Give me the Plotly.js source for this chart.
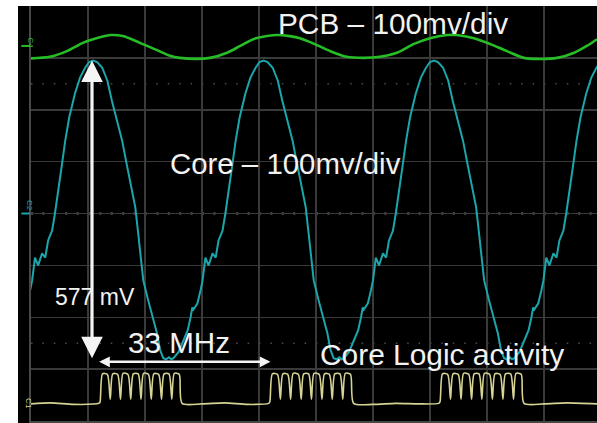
<!DOCTYPE html>
<html>
<head>
<meta charset="utf-8">
<script src="https://cdn.plot.ly/plotly-3.0.1.min.js"></script>
<style>
  html, body { margin: 0; padding: 0; background: #ffffff; overflow: hidden; }
  #scope { position: absolute; left: 18px; top: 6px; width: 579px; height: 417px; }
</style>
</head>
<body>
<div id="scope"></div>
<script>
// Time axis in ns (10 ns/div), vertical axis in mV (100 mV/div)

// Core supply ripple (cyan)
const coreT = [-0.15,0.2,0.7,1.25,1.95,2.5,3.0,3.7,4.2,4.9,5.5,6.0,6.7,7.7,8.6,9.5,10.2,10.9,
  11.6,12.5,13.4,14.2,15.1,16.0,16.7,17.4,18.3,18.8,19.5,19.7,20.55,21.4,22.1,22.65,23.2,23.7,24.2,24.6,
  25.0,25.9,26.6,27.5,28.0,28.3,28.5,29.2,29.75,30.1,30.6,31.15,31.85,32.4,32.9,33.6,34.1,34.8,35.4,35.9,36.6,37.6,38.5,39.4,40.1,40.8,
  41.5,42.4,43.3,44.1,45.0,45.9,46.6,47.3,48.2,48.7,49.4,49.6,50.45,51.3,52.0,52.55,53.1,53.6,54.1,54.5,
  54.9,55.8,56.5,57.4,57.9,58.2,58.4,59.1,59.65,60.0,60.5,61.05,61.75,62.3,62.8,63.5,64.0,64.7,65.3,65.8,66.5,67.5,68.4,69.3,70.0,70.7,
  71.4,72.3,73.2,74.0,74.9,75.8,76.5,77.2,78.1,78.6,79.3,79.5,80.35,81.2,81.9,82.45,83.0,83.5,84.0,84.4,
  84.8,85.7,86.4,87.3,87.8,88.1,88.3,89.0,89.55,89.9,90.4,90.95,91.65,92.2,92.7,93.4,93.9,94.6,95.2,95.7,96.4,97.4,98.3,99.2,99.9,100.6];
const coreMv = [-148,-129,-85,-100,-77,-85,-52,-33,0,50,100,140,185,231,262,281,292,295,
  292,281,256,217,179,140,100,63,12,-38,-104,-129,-167,-200,-231,-263,-279,-281,-277,-281,
  -279,-267,-250,-225,-200,-181,-185,-173,-148,-129,-85,-100,-77,-85,-52,-33,0,50,100,140,185,231,262,281,292,295,
  292,281,256,217,179,140,100,63,12,-38,-104,-129,-167,-200,-231,-263,-279,-281,-277,-281,
  -279,-267,-250,-225,-200,-181,-185,-173,-148,-129,-85,-100,-77,-85,-52,-33,0,50,100,140,185,231,262,281,292,295,
  292,281,256,217,179,140,100,63,12,-38,-104,-129,-167,-200,-231,-263,-279,-281,-277,-281,
  -279,-267,-250,-225,-200,-181,-185,-173,-148,-129,-85,-100,-77,-85,-52,-33,0,50,100,140,185,231,262,281,292,295];

// PCB supply (green)
const pcbT = [0,3.3,6.3,9.1,10.9,13.9,16.1,19.1,22.1,24.4,26.1,29.1,31.4,34.4,36.7,39.0,41.4,43.2,45.4,47.2,
  49.7,52.5,55.4,58.4,61.2,64.2,67.2,70.0,73.0,74.7,77.7,80.5,83.5,86.5,88.8,92.3,95.3,97.5,99.3];
const pcbMv = [299,302,313,329,336,344,342,329,315,304,300,298,300,310,323,336,342,344,342,338,
  327,313,302,300,302,310,327,338,344,344,338,327,313,300,298,300,310,323,336];

// Core logic activity bursts (yellow)
const logicT = [0,3.5,7.5,11.9,
  12.1,12.55,13.4, 13.9,14.35,15.2, 15.7,16.15,17.0, 17.5,17.95,18.8,
  19.3,19.75,20.6, 21.1,21.55,22.4, 22.9,23.35,24.2, 24.7,25.15,26.0,
  26.5,30,34,38,41.7,
  41.9,42.35,43.25, 43.75,44.2,45.05, 45.55,46.0,46.9, 47.4,47.85,48.7,
  49.2,49.65,50.55, 51.05,51.5,52.35, 52.85,53.3,54.2, 54.7,55.15,56.05,
  56.6,60,64,68,71.5,
  71.75,72.2,73.1, 73.6,74.05,74.95, 75.45,75.9,76.8, 77.3,77.75,78.6,
  79.1,79.55,80.45, 80.95,81.4,82.3, 82.8,83.25,84.15, 84.65,85.1,86.0,
  86.5,90,94,99.3];
const logicMv = [-367,-365,-368,-366,
  -364,-309,-310, -358,-309,-310, -358,-308,-310, -358,-309,-309,
  -358,-308,-310, -358,-309,-310, -358,-309,-309, -358,-308,-310,
  -366,-367,-365,-368,-366,
  -363,-309,-310, -358,-309,-310, -358,-308,-310, -358,-309,-309,
  -358,-308,-310, -358,-309,-310, -358,-309,-309, -358,-308,-310,
  -366,-368,-366,-367,-366,
  -363,-309,-310, -358,-309,-310, -358,-308,-310, -358,-309,-309,
  -358,-308,-310, -358,-309,-310, -358,-309,-309, -358,-308,-310,
  -366,-367,-365,-367];

// Measurement markers
const peakTime = 10.7;      // ns, time of the marked core peak
const peakMv = 295;         // mV
const swingMv = 577;        // mV, peak-to-peak core swing
const freqMHz = 33;         // ripple frequency
const periodStart = 11.7;   // ns
const periodLevel = -286;   // mV

const labels = {
  pcb: 'PCB \u2013 100mv/div',
  core: 'Core \u2013 100mv/div',
  swing: swingMv + ' mV',
  freq: freqMHz + ' MHz',
  logic: 'Core Logic activity'
};

const textColor = '#f2f2f2';
const font = 'Liberation Sans, Arial, sans-serif';

const traces = [
  { x: pcbT, y: pcbMv, type: 'scatter', mode: 'lines',
    line: { color: '#26bd26', width: 2.6, shape: 'spline', smoothing: 0.8 } },
  { x: logicT, y: logicMv, type: 'scatter', mode: 'lines',
    line: { color: '#d6d394', width: 1.6, shape: 'spline', smoothing: 0.7 } },
  { x: coreT, y: coreMv, type: 'scatter', mode: 'lines',
    line: { color: '#1aa6ab', width: 2 } }
];

const periodNs = 1000 / freqMHz;

const annotations = [
  { x: 43.0, y: 367, xref: 'x', yref: 'y', text: labels.pcb, showarrow: false,
    xanchor: 'left', yanchor: 'middle', font: { family: font, size: 29.8, color: textColor } },
  { x: 24.0, y: 96, xref: 'x', yref: 'y', text: labels.core, showarrow: false,
    xanchor: 'left', yanchor: 'middle', font: { family: font, size: 29.4, color: textColor } },
  { x: 3.8, y: -160, xref: 'x', yref: 'y', text: labels.swing, showarrow: false,
    xanchor: 'left', yanchor: 'middle', font: { family: font, size: 23, color: textColor } },
  { x: 16.6, y: -249, xref: 'x', yref: 'y', text: labels.freq, showarrow: false,
    xanchor: 'left', yanchor: 'middle', font: { family: font, size: 29.6, color: textColor } },
  { x: 50.3, y: -271, xref: 'x', yref: 'y', text: labels.logic, showarrow: false,
    xanchor: 'left', yanchor: 'middle', font: { family: font, size: 29.9, color: textColor } },
  // peak-to-peak arrow
  { x: peakTime, y: peakMv, ax: peakTime, ay: peakMv - swingMv, xref: 'x', yref: 'y', axref: 'x', ayref: 'y',
    text: '', showarrow: true, arrowside: 'end+start', arrowhead: 2, startarrowhead: 2,
    arrowsize: 1.35, startarrowsize: 1.35, arrowwidth: 3.2, arrowcolor: '#f4f4f4' },
  // one period arrow
  { x: periodStart + periodNs, y: periodLevel, ax: periodStart, ay: periodLevel, xref: 'x', yref: 'y', axref: 'x', ayref: 'y',
    text: '', showarrow: true, arrowside: 'end+start', arrowhead: 2, startarrowhead: 2,
    arrowsize: 0.85, startarrowsize: 0.85, arrowwidth: 2.5, arrowcolor: '#f4f4f4' },
  // channel markers
  { x: -0.013, y: 0.93, xref: 'paper', yref: 'paper', text: 'C4', showarrow: false, textangle: 90,
    font: { family: font, size: 8, color: '#26bd26' } },
  { x: -0.013, y: 0.52, xref: 'paper', yref: 'paper', text: 'C2', showarrow: false, textangle: 90,
    font: { family: font, size: 8, color: '#1aa6ab' } },
  { x: -0.015, y: 0.025, xref: 'paper', yref: 'paper', text: 'C1', showarrow: false, textangle: 90,
    font: { family: font, size: 8, color: '#d6d394' } }
];

const shapes = [
  { type: 'line', xref: 'x', yref: 'y', x0: 0, x1: 100, y0: 0, y1: 0, layer: 'below',
    line: { color: '#8a8a8a', width: 2, dash: '2px,9.4px' } },
  { type: 'line', xref: 'x', yref: 'y', x0: 50, x1: 50, y0: -400, y1: 400, layer: 'below',
    line: { color: '#8a8a8a', width: 2, dash: '2px,8.4px' } },
  { type: 'line', xref: 'x', yref: 'y', x0: 0, x1: 100, y0: 250, y1: 250, layer: 'below',
    line: { color: '#4a4a4a', width: 1.5, dash: '1.5px,9.9px' } },
  { type: 'line', xref: 'x', yref: 'y', x0: 0, x1: 100, y0: -250, y1: -250, layer: 'below',
    line: { color: '#4a4a4a', width: 1.5, dash: '1.5px,9.9px' } },
  // channel ground markers
  { type: 'line', xref: 'paper', yref: 'y', x0: -0.017, x1: -0.002, y0: 323, y1: 323,
    line: { color: '#26bd26', width: 2 } },
  { type: 'line', xref: 'paper', yref: 'y', x0: -0.017, x1: -0.002, y0: 0, y1: 0,
    line: { color: '#1aa6ab', width: 2 } }
];

const axisCommon = {
  showgrid: true, gridcolor: '#3a3a3a', gridwidth: 1.5,
  zeroline: false, showticklabels: false, ticks: '',
  showline: true, linecolor: '#474747', linewidth: 2, mirror: true,
  fixedrange: true
};

const layout = {
  width: 579, height: 417,
  margin: { l: 13, r: 0, t: 0, b: 2, pad: 0 },
  paper_bgcolor: '#000000', plot_bgcolor: '#000000',
  showlegend: false, hovermode: false,
  xaxis: Object.assign({}, axisCommon, { range: [0, 99.3], dtick: 10, tick0: 0 }),
  yaxis: Object.assign({}, axisCommon, { range: [-400, 400], dtick: 100, tick0: 0 }),
  annotations: annotations,
  shapes: shapes
};

Plotly.newPlot('scope', traces, layout, { staticPlot: true, displayModeBar: false });
</script>
</body>
</html>
